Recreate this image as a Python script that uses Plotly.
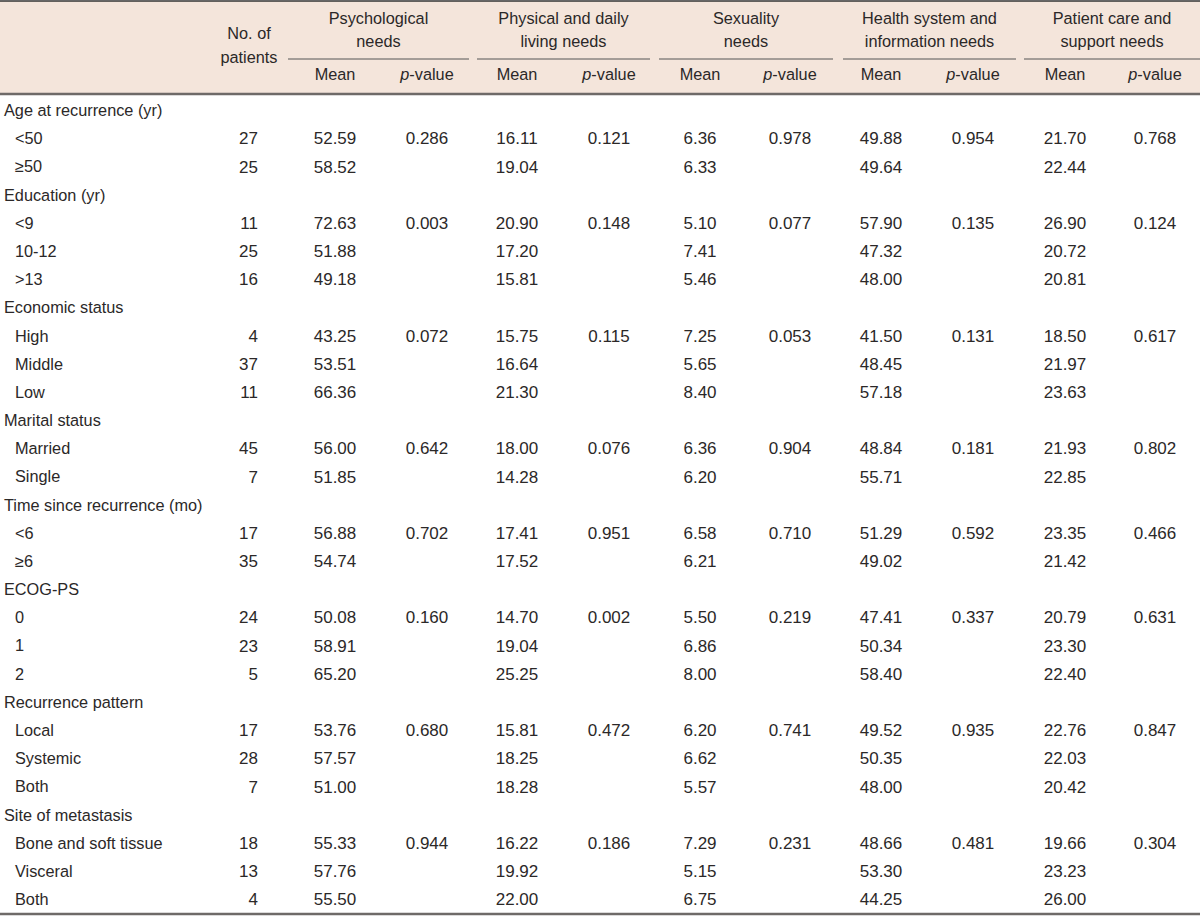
import plotly.graph_objects as go

# ---------------- data ----------------
groups = ["Age at recurrence (yr)", "Education (yr)", "Economic status", "Marital status",
          "Time since recurrence (mo)", "ECOG-PS", "Recurrence pattern", "Site of metastasis"]
subgroups = [["&lt;50", "≥50"], ["&lt;9", "10-12", "&gt;13"], ["High", "Middle", "Low"],
             ["Married", "Single"], ["&lt;6", "≥6"], ["0", "1", "2"],
             ["Local", "Systemic", "Both"], ["Bone and soft tissue", "Visceral", "Both"]]
n_patients = [[27, 25], [11, 25, 16], [4, 37, 11], [45, 7], [17, 35], [24, 23, 5], [17, 28, 7], [18, 13, 4]]
psych_mean = [[52.59, 58.52], [72.63, 51.88, 49.18], [43.25, 53.51, 66.36], [56.00, 51.85],
              [56.88, 54.74], [50.08, 58.91, 65.20], [53.76, 57.57, 51.00], [55.33, 57.76, 55.50]]
psych_p = ["0.286", "0.003", "0.072", "0.642", "0.702", "0.160", "0.680", "0.944"]
phys_mean = [[16.11, 19.04], [20.90, 17.20, 15.81], [15.75, 16.64, 21.30], [18.00, 14.28],
             [17.41, 17.52], [14.70, 19.04, 25.25], [15.81, 18.25, 18.28], [16.22, 19.92, 22.00]]
phys_p = ["0.121", "0.148", "0.115", "0.076", "0.951", "0.002", "0.472", "0.186"]
sex_mean = [[6.36, 6.33], [5.10, 7.41, 5.46], [7.25, 5.65, 8.40], [6.36, 6.20],
            [6.58, 6.21], [5.50, 6.86, 8.00], [6.20, 6.62, 5.57], [7.29, 5.15, 6.75]]
sex_p = ["0.978", "0.077", "0.053", "0.904", "0.710", "0.219", "0.741", "0.231"]
health_mean = [[49.88, 49.64], [57.90, 47.32, 48.00], [41.50, 48.45, 57.18], [48.84, 55.71],
               [51.29, 49.02], [47.41, 50.34, 58.40], [49.52, 50.35, 48.00], [48.66, 53.30, 44.25]]
health_p = ["0.954", "0.135", "0.131", "0.181", "0.592", "0.337", "0.935", "0.481"]
care_mean = [[21.70, 22.44], [26.90, 20.72, 20.81], [18.50, 21.97, 23.63], [21.93, 22.85],
             [23.35, 21.42], [20.79, 23.30, 22.40], [22.76, 22.03, 20.42], [19.66, 23.23, 26.00]]
care_p = ["0.768", "0.124", "0.617", "0.802", "0.466", "0.631", "0.847", "0.304"]

domain_line1 = ["Psychological", "Physical and daily", "Sexuality", "Health system and", "Patient care and"]
domain_line2 = ["needs", "living needs", "needs", "information needs", "support needs"]
sub_headers = ["Mean", "<i>p</i>-value"]
n_header = ["No. of", "patients"]

domain_means = [psych_mean, phys_mean, sex_mean, health_mean, care_mean]
domain_ps = [psych_p, phys_p, sex_p, health_p, care_p]

# ---------------- layout parameters ----------------
W, H = 1200, 920
FONT = "Liberation Sans"
FS_LAB = 16.3
FS_NUM = 17
TXT = "#2b2828"
ROW0, ROWH = 112, 28.18
LABEL_X, SUB_X = 4, 15
N_RIGHT = 258
mean_x = [335, 517, 700, 881, 1065]
p_x = [427, 609, 790, 973, 1155]
span_lines = [(288, 469), (477, 650), (659, 833), (843, 1016), (1024, 1200)]

fig = go.Figure()

lab_x, lab_y, lab_t = [], [], []
n_y, n_t = [], []
mean_cols = [([], []) for _ in domain_means]
p_cols = [([], []) for _ in domain_means]
r = 0
for gi, g in enumerate(groups):
    y = ROW0 + r * ROWH
    lab_x.append(LABEL_X); lab_y.append(y); lab_t.append(g)
    r += 1
    for si, s in enumerate(subgroups[gi]):
        y = ROW0 + r * ROWH
        lab_x.append(SUB_X); lab_y.append(y); lab_t.append(s)
        n_y.append(y); n_t.append(str(n_patients[gi][si]))
        for di in range(len(domain_means)):
            mean_cols[di][0].append(y)
            mean_cols[di][1].append(f"{domain_means[di][gi][si]:.2f}")
            if si == 0:
                p_cols[di][0].append(y)
                p_cols[di][1].append(domain_ps[di][gi])
        r += 1


def text_trace(xs, ys, ts, pos="middle center", size=FS_LAB):
    return go.Scatter(x=xs, y=ys, text=ts, mode="text", textposition=pos,
                      textfont=dict(family=FONT, size=size, color=TXT), hoverinfo="skip")


fig.add_trace(text_trace(lab_x, lab_y, lab_t, "middle right"))
fig.add_trace(text_trace([N_RIGHT] * len(n_y), n_y, n_t, "middle left", FS_NUM))
for di in range(len(domain_means)):
    ys, ts = mean_cols[di]
    fig.add_trace(text_trace([mean_x[di]] * len(ys), ys, ts, size=FS_NUM))
    ys, ts = p_cols[di]
    fig.add_trace(text_trace([p_x[di]] * len(ys), ys, ts, size=FS_NUM))

# header texts
cx = [(a + b) / 2 for a, b in span_lines]
fig.add_trace(text_trace(cx, [20] * len(cx), domain_line1))
fig.add_trace(text_trace(cx, [43] * len(cx), domain_line2))
fig.add_trace(text_trace([249, 249], [35, 59], n_header))
sx, sy, st = [], [], []
for di in range(len(domain_means)):
    sx += [mean_x[di], p_x[di]]
    sy += [76, 76]
    st += sub_headers
fig.add_trace(text_trace(sx, sy, st))

shapes = [
    dict(type="rect", x0=0, x1=W, y0=1, y1=94, fillcolor="#f4e5db", line=dict(width=0), layer="below"),
    dict(type="line", x0=0, x1=W, y0=1, y1=1, line=dict(color="#333333", width=1.5)),
    dict(type="line", x0=0, x1=W, y0=94, y1=94, line=dict(color="#6e6a68", width=2.5)),
    dict(type="line", x0=0, x1=W, y0=914, y1=914, line=dict(color="#6e6a68", width=2.5)),
]
for a, b in span_lines:
    shapes.append(dict(type="line", x0=a, x1=b, y0=59, y1=59, line=dict(color="#555555", width=1)))

fig.update_layout(
    width=W, height=H, margin=dict(l=0, r=0, t=0, b=0),
    paper_bgcolor="white", plot_bgcolor="white", showlegend=False,
    xaxis=dict(range=[0, W], visible=False, fixedrange=True),
    yaxis=dict(range=[H, 0], visible=False, fixedrange=True),
    shapes=shapes,
)

fig.write_html("out.html", config={"displayModeBar": False},
               post_script="document.body.style.margin='0';document.body.style.overflow='hidden';")
